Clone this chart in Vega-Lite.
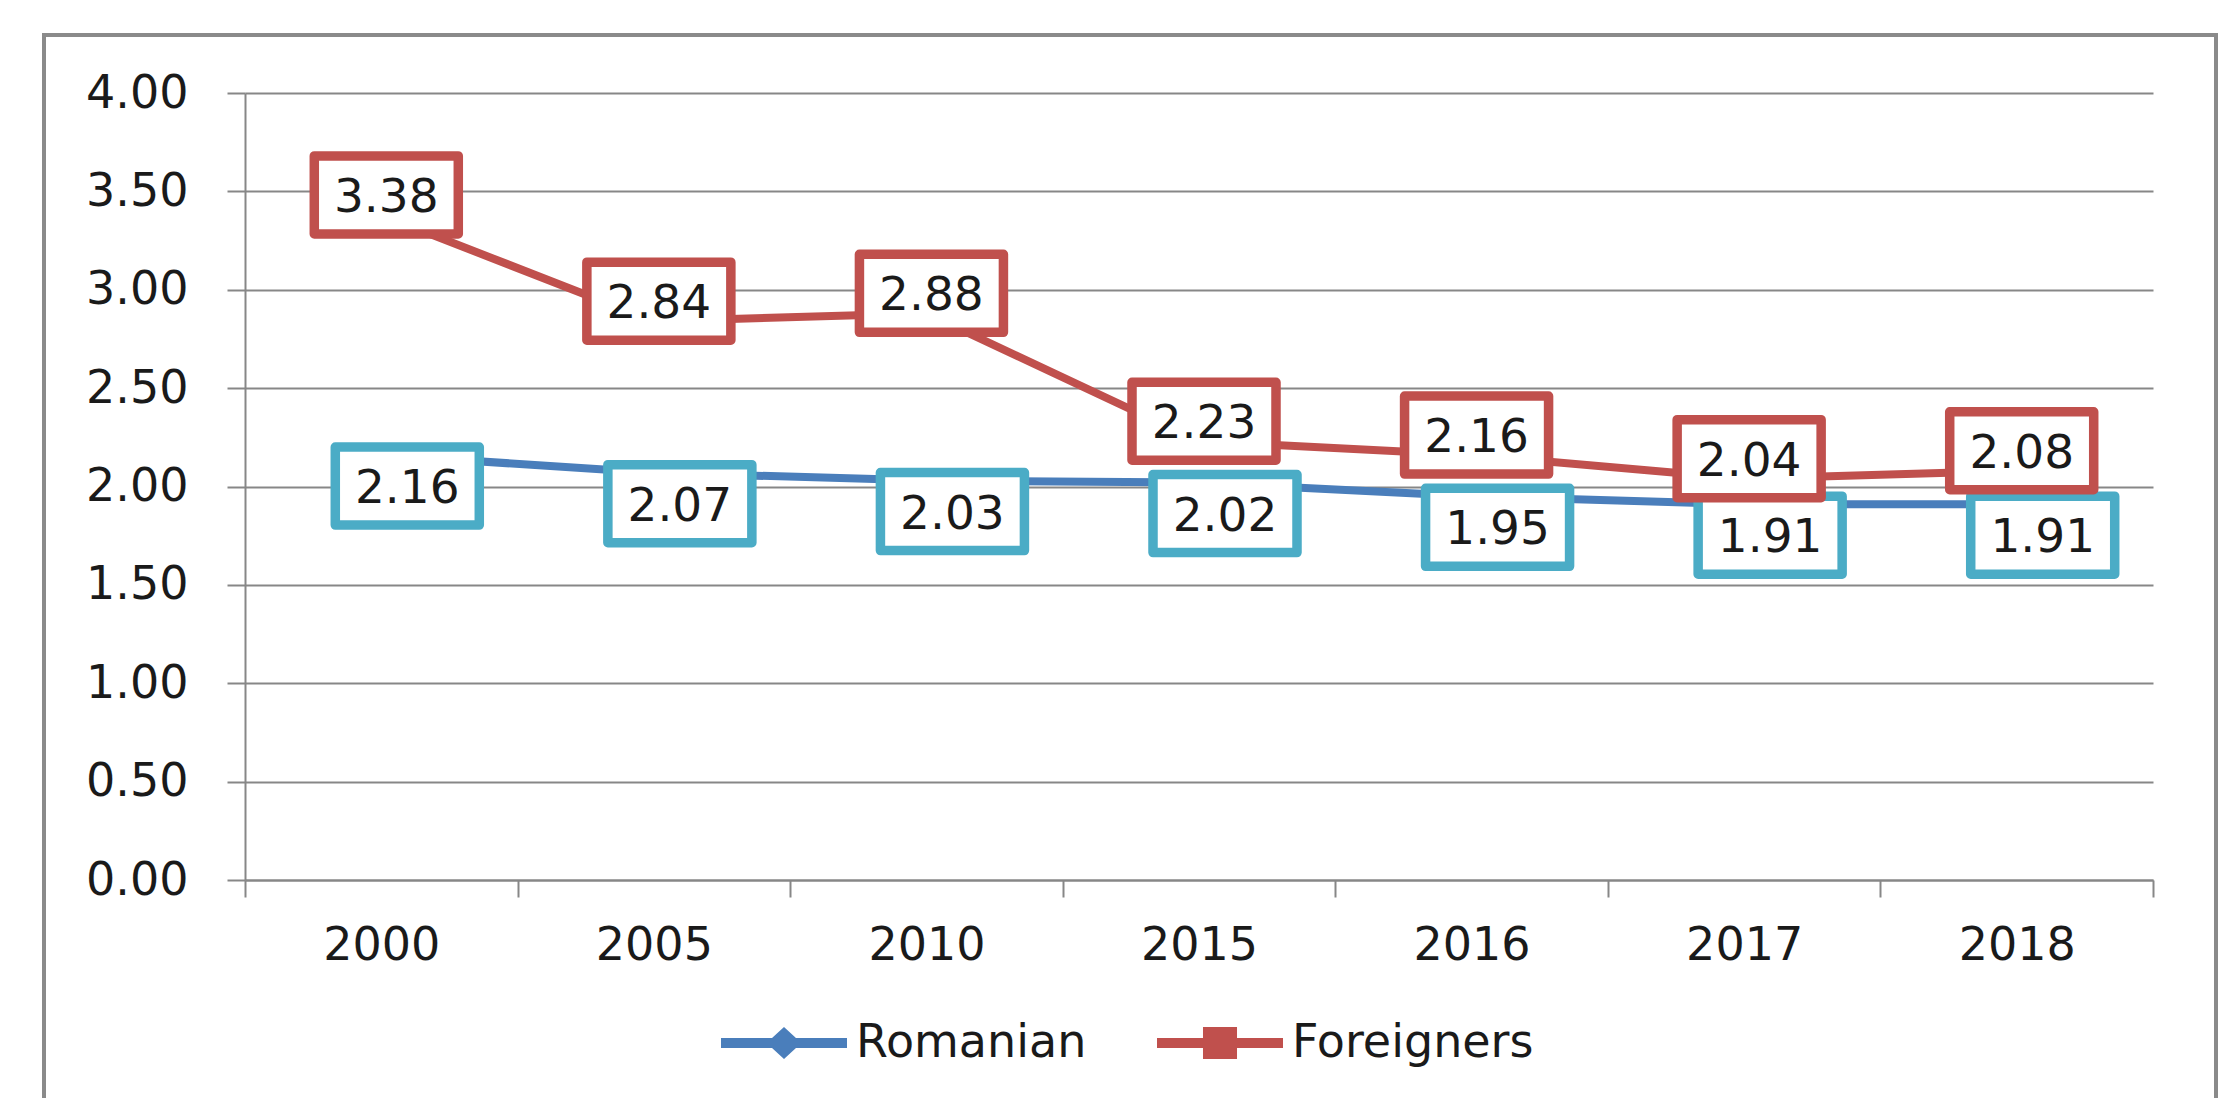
{
  "$schema": "https://vega.github.io/schema/vega-lite/v6.json",
  "autosize": "none",
  "width": 2172,
  "height": 1063,
  "padding": {"left": 44, "top": 35, "right": 23, "bottom": 0},
  "background": "white",
  "config": {
    "view": {"stroke": "#8a8a8a", "strokeWidth": 4, "strokeDash": [3235, 2172, 1063]},
    "font": "DejaVu Sans"
  },
  "data": {
    "values": [
      {"year": "2000", "series": "Romanian", "value": 2.16},
      {"year": "2005", "series": "Romanian", "value": 2.07},
      {"year": "2010", "series": "Romanian", "value": 2.03},
      {"year": "2015", "series": "Romanian", "value": 2.02},
      {"year": "2016", "series": "Romanian", "value": 1.95},
      {"year": "2017", "series": "Romanian", "value": 1.91},
      {"year": "2018", "series": "Romanian", "value": 1.91},
      {"year": "2000", "series": "Foreigners", "value": 3.38},
      {"year": "2005", "series": "Foreigners", "value": 2.84},
      {"year": "2010", "series": "Foreigners", "value": 2.88},
      {"year": "2015", "series": "Foreigners", "value": 2.23},
      {"year": "2016", "series": "Foreigners", "value": 2.16},
      {"year": "2017", "series": "Foreigners", "value": 2.04},
      {"year": "2018", "series": "Foreigners", "value": 2.08}
    ]
  },
  "encoding": {
    "x": {
      "field": "year",
      "type": "ordinal",
      "bandPosition": 0.5,
      "scale": {"type": "band", "range": [201, 2109], "paddingInner": 0, "paddingOuter": 0},
      "axis": {
        "orient": "bottom",
        "offset": -218,
        "title": null,
        "labelAngle": 0,
        "labelFont": "DejaVu Sans",
        "labelFontSize": 46,
        "labelColor": "#1a1a1a",
        "labelPadding": 26,
        "tickSize": 17,
        "tickColor": "#878787",
        "tickWidth": 2,
        "tickBand": "extent",
        "domainColor": "#878787",
        "domainWidth": 2,
        "grid": false
      }
    },
    "y": {
      "field": "value",
      "type": "quantitative",
      "scale": {"domain": [0, 4], "range": [845, 58], "nice": false},
      "axis": {
        "orient": "left",
        "offset": -201,
        "values": [0, 0.5, 1, 1.5, 2, 2.5, 3, 3.5, 4],
        "format": ".2f",
        "title": null,
        "labelFont": "DejaVu Sans",
        "labelFontSize": 46,
        "labelColor": "#1a1a1a",
        "labelPadding": 39,
        "tickSize": 18,
        "tickColor": "#878787",
        "tickWidth": 2,
        "domainColor": "#878787",
        "domainWidth": 2,
        "grid": true,
        "gridColor": "#878787",
        "gridWidth": 2
      }
    }
  },
  "layer": [
    {
      "mark": {"type": "line", "strokeWidth": 8},
      "encoding": {
        "color": {
          "field": "series",
          "type": "nominal",
          "scale": {"domain": ["Romanian", "Foreigners"], "range": ["#4a7ebb", "#c0504d"]},
          "legend": {
            "orient": "none",
            "legendX": 677,
            "legendY": 945,
            "direction": "horizontal",
            "title": null,
            "padding": 0,
            "labelFont": "DejaVu Sans",
            "labelFontSize": 46,
            "labelLimit": 0,
            "labelColor": "#1a1a1a",
            "labelOffset": 9,
            "columnPadding": 70,
            "symbolSize": 15876,
            "symbolStrokeWidth": 0,
            "encode": {
              "symbols": {
                "update": {
                  "shape": {"signal": "datum.value === 'Romanian' ? 'M-1,-0.08L-0.19,-0.08L0,-0.254L0.19,-0.08L1,-0.08L1,0.08L0.19,0.08L0,0.254L-0.19,0.08L-1,0.08Z' : 'M-1,-0.08L-0.27,-0.08L-0.27,-0.254L0.27,-0.254L0.27,-0.08L1,-0.08L1,0.08L0.27,0.08L0.27,0.254L-0.27,0.254L-0.27,0.08L-1,0.08Z'"},
                  "fill": {"signal": "datum.value === 'Romanian' ? '#4a7ebb' : '#c0504d'"},
                  "stroke": {"value": "transparent"},
                  "opacity": {"value": 1}
                }
              }
            }
          }
        }
      }
    },
    {
      "transform": [{"filter": "datum.series === 'Romanian'"}],
      "mark": {
        "type": "point",
        "shape": "M-1,-0.5417L1,-0.5417L1,0.5417L-1,0.5417Z",
        "size": 20736,
        "filled": false,
        "fill": "white",
        "fillOpacity": 1,
        "stroke": "#4bacc6",
        "strokeWidth": 9.5,
        "strokeJoin": "round",
        "opacity": 1,
        "xOffset": 26,
        "yOffset": 31
      }
    },
    {
      "transform": [{"filter": "datum.series === 'Romanian'"}],
      "mark": {
        "type": "text",
        "font": "DejaVu Sans",
        "fontSize": 47,
        "color": "#1a1a1a",
        "align": "center",
        "baseline": "alphabetic",
        "xOffset": 26,
        "yOffset": 48
      },
      "encoding": {"text": {"field": "value", "type": "quantitative", "format": ".2f"}}
    },
    {
      "transform": [{"filter": "datum.series === 'Foreigners'"}],
      "mark": {
        "type": "point",
        "shape": "M-1,-0.5417L1,-0.5417L1,0.5417L-1,0.5417Z",
        "size": 20736,
        "filled": false,
        "fill": "white",
        "fillOpacity": 1,
        "stroke": "#c0504d",
        "strokeWidth": 9.5,
        "strokeJoin": "round",
        "opacity": 1,
        "xOffset": 5,
        "yOffset": -20
      }
    },
    {
      "transform": [{"filter": "datum.series === 'Foreigners'"}],
      "mark": {
        "type": "text",
        "font": "DejaVu Sans",
        "fontSize": 47,
        "color": "#1a1a1a",
        "align": "center",
        "baseline": "alphabetic",
        "xOffset": 5,
        "yOffset": -3
      },
      "encoding": {"text": {"field": "value", "type": "quantitative", "format": ".2f"}}
    }
  ]
}
